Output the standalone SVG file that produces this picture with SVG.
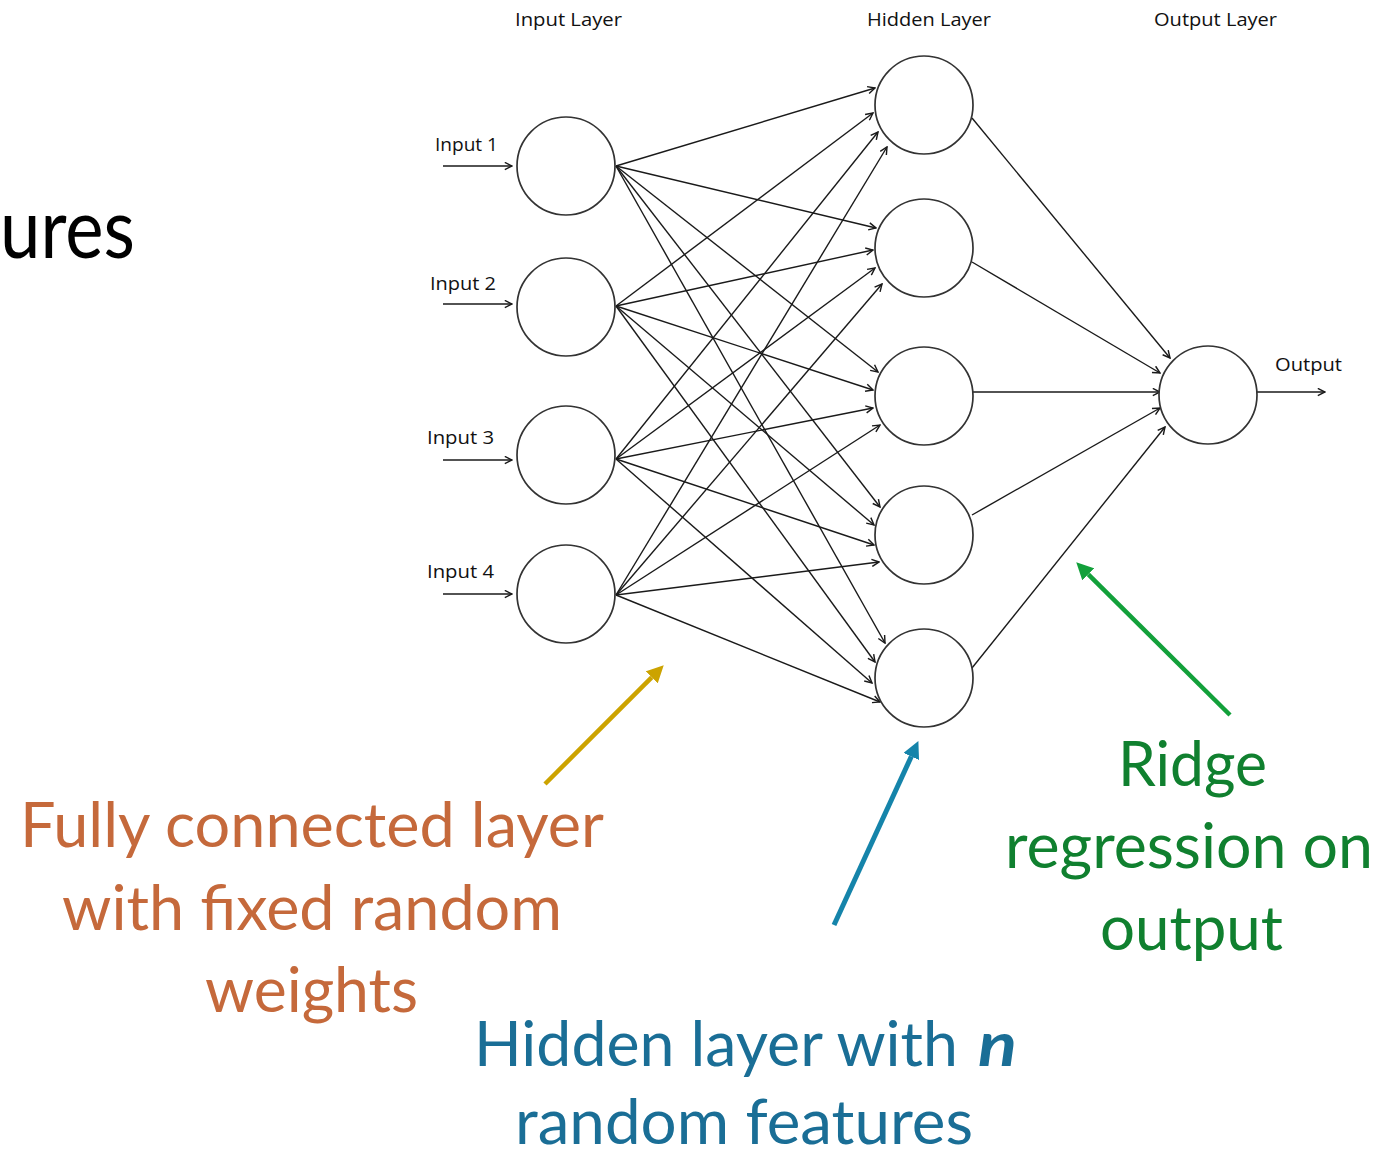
<svg xmlns="http://www.w3.org/2000/svg" width="1384" height="1157" viewBox="0 0 1384 1157">
<style>
.node{fill:#fff;stroke:#333;stroke-width:1.7}
.conn{stroke:#1a1a1a;stroke-width:1.4;fill:none;marker-end:url(#chev)}
.lbl{font-family:"Open Sans","DejaVu Sans",sans-serif;font-size:18px;fill:#111}
.big{font-family:Lato,"Open Sans",sans-serif;font-size:62px}
.orange{fill:#C5693B}
.blue{fill:#1A6E96}
.green{fill:#10802F}
</style>
<defs>
<marker id="chev" markerUnits="userSpaceOnUse" viewBox="0 0 10 10" markerWidth="9" markerHeight="9" refX="9" refY="5" orient="auto">
<path d="M1,1 L9,5 L1,9" fill="none" stroke="#1a1a1a" stroke-width="1.6"/>
</marker>
<marker id="hY" markerUnits="userSpaceOnUse" viewBox="0 0 16 16" markerWidth="17" markerHeight="17" refX="0" refY="8" orient="auto"><path d="M0,0 L16,8 L0,16 z" fill="#CCA300"/></marker>
<marker id="hB" markerUnits="userSpaceOnUse" viewBox="0 0 16 16" markerWidth="17" markerHeight="17" refX="0" refY="8" orient="auto"><path d="M0,0 L16,8 L0,16 z" fill="#1584AA"/></marker>
<marker id="hG" markerUnits="userSpaceOnUse" viewBox="0 0 16 16" markerWidth="17" markerHeight="17" refX="0" refY="8" orient="auto"><path d="M0,0 L16,8 L0,16 z" fill="#12A03A"/></marker>
</defs>
<rect width="1384" height="1157" fill="#fff"/>

<text x="135" y="258" text-anchor="end" font-family="Lato,'Open Sans',sans-serif" font-size="83" fill="#000" textLength="135" lengthAdjust="spacingAndGlyphs">ures</text>

<g id="layer-labels" class="lbl">
<text x="515" y="26" textLength="107" lengthAdjust="spacingAndGlyphs">Input Layer</text>
<text x="867" y="26" textLength="124" lengthAdjust="spacingAndGlyphs">Hidden Layer</text>
<text x="1154" y="26" textLength="123" lengthAdjust="spacingAndGlyphs">Output Layer</text>
</g>

<g id="connectors">
<line class="conn" x1="443" y1="166" x2="512" y2="166"/>
<line class="conn" x1="443" y1="304" x2="512" y2="304"/>
<line class="conn" x1="443" y1="460" x2="512" y2="460"/>
<line class="conn" x1="443" y1="594" x2="512" y2="594"/>

<line class="conn" x1="616" y1="166" x2="875" y2="88"/>
<line class="conn" x1="616" y1="306" x2="873" y2="113"/>
<line class="conn" x1="616" y1="459" x2="878" y2="132"/>
<line class="conn" x1="616" y1="595" x2="887" y2="147"/>

<line class="conn" x1="616" y1="166" x2="876" y2="228"/>
<line class="conn" x1="616" y1="306" x2="873" y2="250"/>
<line class="conn" x1="616" y1="459" x2="875" y2="268"/>
<line class="conn" x1="616" y1="595" x2="882" y2="284"/>

<line class="conn" x1="616" y1="166" x2="878" y2="372"/>
<line class="conn" x1="616" y1="306" x2="873" y2="390"/>
<line class="conn" x1="616" y1="459" x2="873" y2="408"/>
<line class="conn" x1="616" y1="595" x2="880" y2="425"/>

<line class="conn" x1="616" y1="166" x2="880" y2="507"/>
<line class="conn" x1="616" y1="306" x2="874" y2="525"/>
<line class="conn" x1="616" y1="459" x2="874" y2="545"/>
<line class="conn" x1="616" y1="595" x2="879" y2="562"/>

<line class="conn" x1="616" y1="166" x2="885" y2="643"/>
<line class="conn" x1="616" y1="306" x2="875" y2="662"/>
<line class="conn" x1="616" y1="459" x2="872" y2="683"/>
<line class="conn" x1="616" y1="595" x2="880" y2="702"/>

<line class="conn" x1="972" y1="118" x2="1170" y2="358"/>
<line class="conn" x1="972" y1="262" x2="1160" y2="373"/>
<line class="conn" x1="973" y1="392" x2="1160" y2="392"/>
<line class="conn" x1="972" y1="515" x2="1160" y2="408"/>
<line class="conn" x1="972" y1="668" x2="1165" y2="427"/>

<line class="conn" x1="1257" y1="392" x2="1325" y2="392"/>

<line x1="545" y1="784" x2="651.7" y2="677.3" stroke="#CCA300" stroke-width="4.5" marker-end="url(#hY)"/>
<line x1="834" y1="925" x2="911.3" y2="756.5" stroke="#1584AA" stroke-width="5" marker-end="url(#hB)"/>
<line x1="1230" y1="715" x2="1088.3" y2="574.3" stroke="#12A03A" stroke-width="4.5" marker-end="url(#hG)"/>
</g>

<g id="input1"><circle class="node" cx="566" cy="166" r="49"/><text class="lbl" x="435" y="151" textLength="63" lengthAdjust="spacingAndGlyphs">Input 1</text></g>
<g id="input2"><circle class="node" cx="566" cy="307" r="49"/><text class="lbl" x="430" y="290" textLength="66" lengthAdjust="spacingAndGlyphs">Input 2</text></g>
<g id="input3"><circle class="node" cx="566" cy="455" r="49"/><text class="lbl" x="427" y="444" textLength="67" lengthAdjust="spacingAndGlyphs">Input 3</text></g>
<g id="input4"><circle class="node" cx="566" cy="594" r="49"/><text class="lbl" x="427" y="578" textLength="67" lengthAdjust="spacingAndGlyphs">Input 4</text></g>

<g id="hidden1"><circle class="node" cx="924" cy="105" r="49"/></g>
<g id="hidden2"><circle class="node" cx="924" cy="248" r="49"/></g>
<g id="hidden3"><circle class="node" cx="924" cy="396" r="49"/></g>
<g id="hidden4"><circle class="node" cx="924" cy="535" r="49"/></g>
<g id="hidden5"><circle class="node" cx="924" cy="678" r="49"/></g>

<g id="output"><circle class="node" cx="1208" cy="395" r="49"/><text class="lbl" x="1275" y="371" textLength="67" lengthAdjust="spacingAndGlyphs">Output</text></g>

<g id="note-fully-connected" class="big orange">
<text x="20" y="847" textLength="584" lengthAdjust="spacingAndGlyphs">Fully connected layer</text>
<text x="62" y="930" textLength="500" lengthAdjust="spacingAndGlyphs">with fixed random</text>
<text x="205" y="1012" textLength="213" lengthAdjust="spacingAndGlyphs">weights</text>
</g>

<g id="note-hidden" class="big blue">
<text x="474" y="1066" textLength="484" lengthAdjust="spacingAndGlyphs">Hidden layer with</text>
<text x="978" y="1066" font-weight="bold" font-style="italic" textLength="39" lengthAdjust="spacingAndGlyphs">n</text>
<text x="515" y="1144" textLength="458" lengthAdjust="spacingAndGlyphs">random features</text>
</g>

<g id="note-ridge" class="big green">
<text x="1118" y="786" textLength="149" lengthAdjust="spacingAndGlyphs">Ridge</text>
<text x="1005" y="868" textLength="368" lengthAdjust="spacingAndGlyphs">regression on</text>
<text x="1100" y="950" textLength="183" lengthAdjust="spacingAndGlyphs">output</text>
</g>
</svg>
